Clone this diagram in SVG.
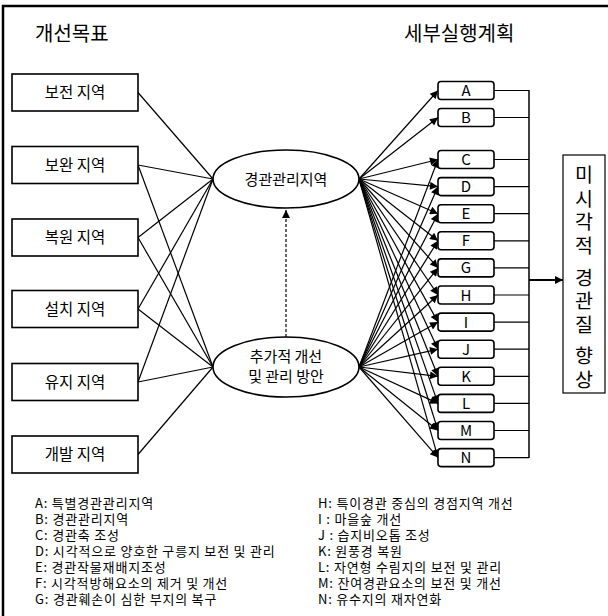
<svg xmlns="http://www.w3.org/2000/svg" width="608" height="616" viewBox="0 0 608 616">
<style>
text{font-family:"Noto Sans CJK KR","Noto Sans",sans-serif;fill:#000}
.box{fill:#fff;stroke:#000;stroke-width:1.6}
.sbox{fill:#fff;stroke:#000;stroke-width:1.6}
.ln{stroke:#000;stroke-width:1.2;fill:none}
.ar{stroke:#000;stroke-width:1.2;fill:none;marker-end:url(#ah)}
.t14{font-size:15.5px}
.t15{font-size:15px}
.lg{font-size:13px;letter-spacing:0.8px}
.title{font-size:20px}
</style>
<defs>
<marker id="ah" viewBox="0 0 10 10" refX="10" refY="5" markerWidth="10" markerHeight="8" markerUnits="userSpaceOnUse" orient="auto">
<path d="M0,0 L10,5 L0,10 z" fill="#000"/>
</marker>
</defs>
<g id="frame">
<line x1="2" y1="6" x2="608" y2="6" stroke="#000" stroke-width="2.5"/>
<line x1="3" y1="5" x2="3" y2="616" stroke="#000" stroke-width="2.5"/>
</g>
<g id="titles">
<text class="title" x="35" y="41">개선목표</text>
<text class="title" x="404" y="41">세부실행계획</text>
</g>
<g id="connectors">
<line class="ln" x1="138" y1="92.5" x2="213" y2="179"/>
<line class="ln" x1="138" y1="165" x2="213" y2="179"/>
<line class="ln" x1="138" y1="165" x2="213" y2="367"/>
<line class="ln" x1="138" y1="237.5" x2="213" y2="179"/>
<line class="ln" x1="138" y1="237.5" x2="213" y2="367"/>
<line class="ln" x1="138" y1="309" x2="213" y2="179"/>
<line class="ln" x1="138" y1="309" x2="213" y2="367"/>
<line class="ln" x1="138" y1="382" x2="213" y2="179"/>
<line class="ln" x1="138" y1="382" x2="213" y2="367"/>
<line class="ln" x1="138" y1="454.5" x2="213" y2="367"/>
<line x1="286" y1="337" x2="286" y2="210" stroke="#000" stroke-width="1.2" stroke-dasharray="3,2" marker-end="url(#ah)"/>
<line class="ar" x1="359" y1="179" x2="438" y2="90.5"/>
<line class="ar" x1="359" y1="179" x2="438" y2="117.5"/>
<line class="ar" x1="359" y1="179" x2="438" y2="159.5"/>
<line class="ar" x1="359" y1="179" x2="438" y2="186.6"/>
<line class="ar" x1="359" y1="179" x2="438" y2="213.7"/>
<line class="ar" x1="359" y1="179" x2="438" y2="240.8"/>
<line class="ar" x1="359" y1="179" x2="438" y2="267.9"/>
<line class="ar" x1="359" y1="179" x2="438" y2="295"/>
<line class="ar" x1="359" y1="179" x2="438" y2="322.1"/>
<line class="ar" x1="359" y1="179" x2="438" y2="349.2"/>
<line class="ar" x1="359" y1="179" x2="438" y2="376.3"/>
<line class="ar" x1="359" y1="179" x2="438" y2="403.4"/>
<line class="ar" x1="359" y1="179" x2="438" y2="430.5"/>
<line class="ar" x1="359" y1="179" x2="438" y2="457.6"/>
<line class="ar" x1="359" y1="367" x2="438" y2="159.5"/>
<line class="ar" x1="359" y1="367" x2="438" y2="186.6"/>
<line class="ar" x1="359" y1="367" x2="438" y2="213.7"/>
<line class="ar" x1="359" y1="367" x2="438" y2="240.8"/>
<line class="ar" x1="359" y1="367" x2="438" y2="267.9"/>
<line class="ar" x1="359" y1="367" x2="438" y2="295"/>
<line class="ar" x1="359" y1="367" x2="438" y2="322.1"/>
<line class="ar" x1="359" y1="367" x2="438" y2="349.2"/>
<line class="ar" x1="359" y1="367" x2="438" y2="376.3"/>
<line class="ar" x1="359" y1="367" x2="438" y2="403.4"/>
<line class="ar" x1="359" y1="367" x2="438" y2="430.5"/>
<line class="ar" x1="359" y1="367" x2="438" y2="457.6"/>
<line class="ln" x1="494" y1="90.5" x2="529" y2="90.5"/>
<line class="ln" x1="494" y1="117.5" x2="529" y2="117.5"/>
<line class="ln" x1="494" y1="159.5" x2="529" y2="159.5"/>
<line class="ln" x1="494" y1="186.6" x2="529" y2="186.6"/>
<line class="ln" x1="494" y1="213.7" x2="529" y2="213.7"/>
<line class="ln" x1="494" y1="240.8" x2="529" y2="240.8"/>
<line class="ln" x1="494" y1="267.9" x2="529" y2="267.9"/>
<line class="ln" x1="494" y1="295" x2="529" y2="295"/>
<line class="ln" x1="494" y1="322.1" x2="529" y2="322.1"/>
<line class="ln" x1="494" y1="349.2" x2="529" y2="349.2"/>
<line class="ln" x1="494" y1="376.3" x2="529" y2="376.3"/>
<line class="ln" x1="494" y1="403.4" x2="529" y2="403.4"/>
<line class="ln" x1="494" y1="430.5" x2="529" y2="430.5"/>
<line class="ln" x1="494" y1="457.6" x2="529" y2="457.6"/>
<line x1="529" y1="90" x2="529" y2="458" stroke="#000" stroke-width="1.5"/>
<line x1="529" y1="280" x2="563" y2="280" stroke="#000" stroke-width="1.8" marker-end="url(#ah)"/>
</g>
<g id="left-nodes">
<g id="n-bojeon"><rect class="box" x="12" y="74" width="126" height="37"/><text class="t14" x="75" y="98" text-anchor="middle">보전 지역</text></g>
<g id="n-bowan"><rect class="box" x="12" y="146.5" width="126" height="37"/><text class="t14" x="75" y="170.5" text-anchor="middle">보완 지역</text></g>
<g id="n-bokwon"><rect class="box" x="12" y="219" width="126" height="37"/><text class="t14" x="75" y="243" text-anchor="middle">복원 지역</text></g>
<g id="n-seolchi"><rect class="box" x="12" y="290.5" width="126" height="37"/><text class="t14" x="75" y="314.5" text-anchor="middle">설치 지역</text></g>
<g id="n-yuji"><rect class="box" x="12" y="363.5" width="126" height="37"/><text class="t14" x="75" y="387.5" text-anchor="middle">유지 지역</text></g>
<g id="n-gaebal"><rect class="box" x="12" y="436" width="126" height="37"/><text class="t14" x="75" y="460" text-anchor="middle">개발 지역</text></g>
</g>
<g id="ellipses">
<g id="e1"><ellipse cx="286" cy="179" rx="73" ry="29" fill="#fff" stroke="#000" stroke-width="1.6"/><text class="t15" x="286" y="184.5" text-anchor="middle">경관관리지역</text></g>
<g id="e2"><ellipse cx="286" cy="367" rx="73" ry="30" fill="#fff" stroke="#000" stroke-width="1.6"/><text class="t15" x="286" y="372" text-anchor="middle"><tspan x="286" dy="-10">추가적 개선</tspan><tspan x="286" dy="20">및 관리 방안</tspan></text></g>
</g>
<g id="right-nodes">
<g id="rA"><rect class="sbox" x="438" y="81.5" width="56" height="18" rx="3"/><text class="t15" x="466" y="96" text-anchor="middle">A</text></g>
<g id="rB"><rect class="sbox" x="438" y="108.5" width="56" height="18" rx="3"/><text class="t15" x="466" y="123" text-anchor="middle">B</text></g>
<g id="rC"><rect class="sbox" x="438" y="150.5" width="56" height="18" rx="3"/><text class="t15" x="466" y="165" text-anchor="middle">C</text></g>
<g id="rD"><rect class="sbox" x="438" y="177.6" width="56" height="18" rx="3"/><text class="t15" x="466" y="192.1" text-anchor="middle">D</text></g>
<g id="rE"><rect class="sbox" x="438" y="204.7" width="56" height="18" rx="3"/><text class="t15" x="466" y="219.2" text-anchor="middle">E</text></g>
<g id="rF"><rect class="sbox" x="438" y="231.8" width="56" height="18" rx="3"/><text class="t15" x="466" y="246.3" text-anchor="middle">F</text></g>
<g id="rG"><rect class="sbox" x="438" y="258.9" width="56" height="18" rx="3"/><text class="t15" x="466" y="273.4" text-anchor="middle">G</text></g>
<g id="rH"><rect class="sbox" x="438" y="286" width="56" height="18" rx="3"/><text class="t15" x="466" y="300.5" text-anchor="middle">H</text></g>
<g id="rI"><rect class="sbox" x="438" y="313.1" width="56" height="18" rx="3"/><text class="t15" x="466" y="327.6" text-anchor="middle">I</text></g>
<g id="rJ"><rect class="sbox" x="438" y="340.2" width="56" height="18" rx="3"/><text class="t15" x="466" y="354.7" text-anchor="middle">J</text></g>
<g id="rK"><rect class="sbox" x="438" y="367.3" width="56" height="18" rx="3"/><text class="t15" x="466" y="381.8" text-anchor="middle">K</text></g>
<g id="rL"><rect class="sbox" x="438" y="394.4" width="56" height="18" rx="3"/><text class="t15" x="466" y="408.9" text-anchor="middle">L</text></g>
<g id="rM"><rect class="sbox" x="438" y="421.5" width="56" height="18" rx="3"/><text class="t15" x="466" y="436" text-anchor="middle">M</text></g>
<g id="rN"><rect class="sbox" x="438" y="448.6" width="56" height="18" rx="3"/><text class="t15" x="466" y="463.1" text-anchor="middle">N</text></g>
</g>
<g id="result">
<rect x="563" y="155" width="42" height="238" fill="#fff" stroke="#000" stroke-width="1.2"/>
<text x="584" y="165" font-size="19.5" writing-mode="vertical-rl" letter-spacing="4">미시각적 경관질 향상</text>
</g>
<g id="legend">
<text class="lg" x="35" y="508"><tspan x="35">A: 특별경관관리지역</tspan><tspan x="35" dy="16">B: 경관관리지역</tspan><tspan x="35" dy="16">C: 경관축 조성</tspan><tspan x="35" dy="16">D: 시각적으로 양호한 구릉지 보전 및 관리</tspan><tspan x="35" dy="16">E: 경관작물재배지조성</tspan><tspan x="35" dy="16">F: 시각적방해요소의 제거 및 개선</tspan><tspan x="35" dy="16">G: 경관훼손이 심한 부지의 복구</tspan></text>
<text class="lg" x="318" y="508"><tspan x="318">H: 특이경관 중심의 경점지역 개선</tspan><tspan x="318" dy="16">I : 마을숲 개선</tspan><tspan x="318" dy="16">J : 습지비오톱 조성</tspan><tspan x="318" dy="16">K: 원풍경 복원</tspan><tspan x="318" dy="16">L: 자연형 수림지의 보전 및 관리</tspan><tspan x="318" dy="16">M: 잔여경관요소의 보전 및 개선</tspan><tspan x="318" dy="16">N: 유수지의 재자연화</tspan></text>
</g>
</svg>
